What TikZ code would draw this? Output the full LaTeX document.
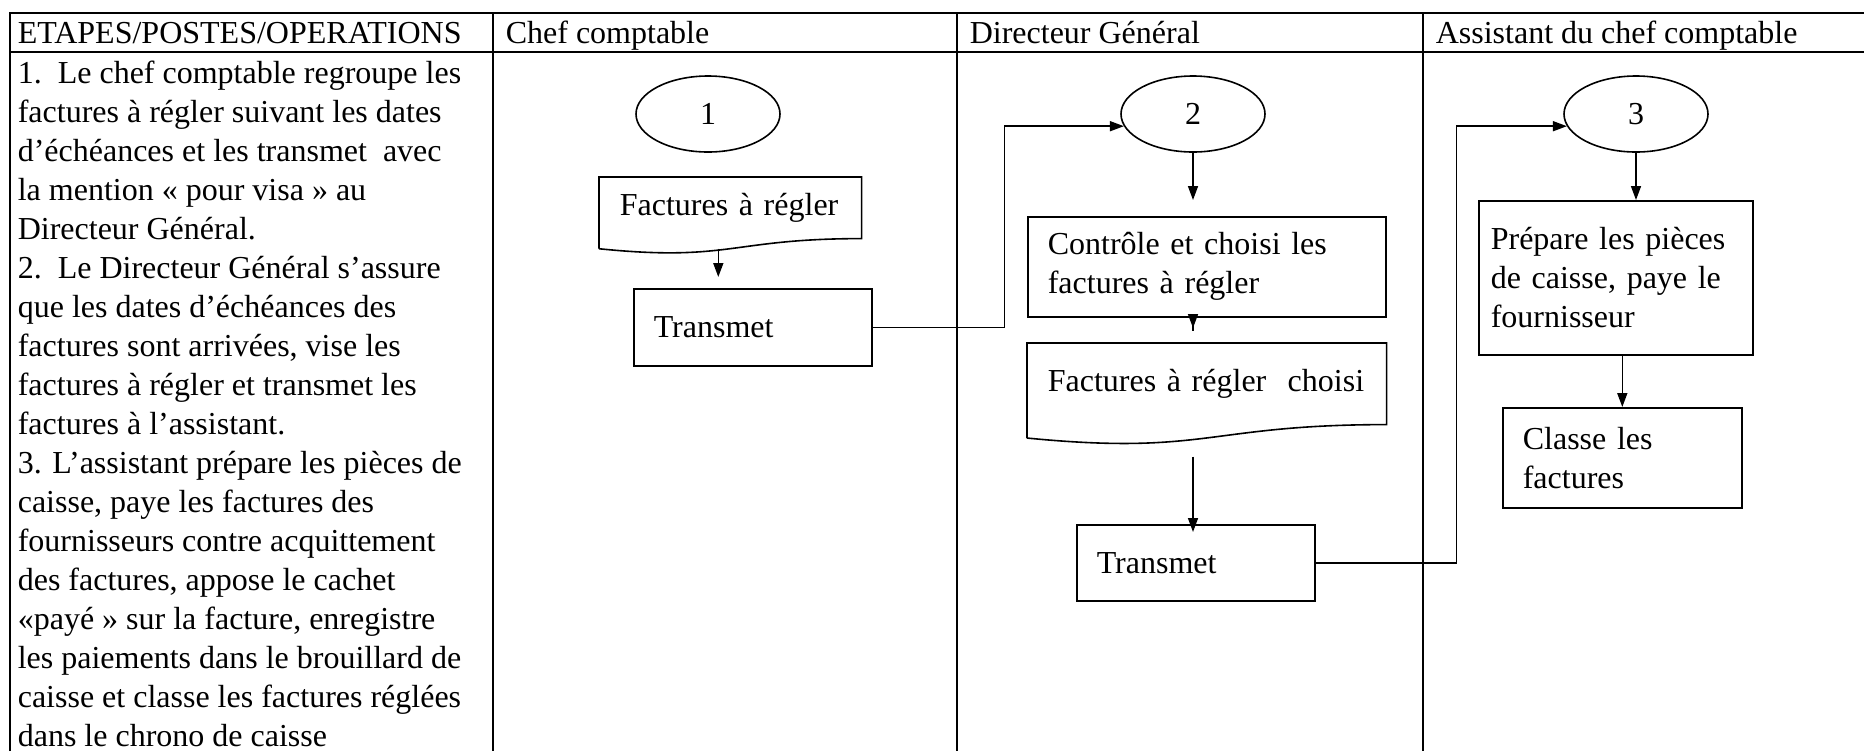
\documentclass[tikz,border=0pt]{standalone}
\usepackage{fontspec}
\setmainfont{Liberation Serif}
\usetikzlibrary{arrows.meta, calc, shapes.geometric}

% contour d'un document (bas ondule) autour d'un noeud
\newcommand{\docoutline}[1]{%
  \draw ($(#1.south west)!-0.1646!(#1.north west)$) -- (#1.north west) -- (#1.north east) -- (#1.south east)
    .. controls (#1.south) and ($(#1.south)!-0.381!(#1.north)$) .. ($(#1.south west)!-0.1646!(#1.north west)$);}

\begin{document}
\begin{tikzpicture}[x=0.5pt, y=-0.5pt, line width=.8pt,
    every node/.style={font=\fontsize{16}{19.5}\selectfont},
    stepbox/.style={draw, rectangle, anchor=north west, inner xsep=10pt, inner ysep=0pt, align=left},
    docbox/.style={stepbox, draw=none},
    bubble/.style={draw, ellipse, minimum width=72pt, minimum height=38pt, inner sep=0pt},
    flow/.style={-{Triangle[length=7pt, width=5pt]}}]
    \useasboundingbox (0,0) rectangle (1864,751);

    % tableau
    \draw (10,751) -- (10,13) -- (1864,13);
    \draw (10,52) -- (1864,52);
    \foreach \xcol in {493,957,1423} \draw (\xcol,13) -- (\xcol,751);

    \node[anchor=base west, inner sep=0] (hops) at (17,43) {ETAPES/POSTES/OPERATIONS};
    \node[anchor=base west, inner sep=0] (hchef) at (505,43) {Chef comptable};
    \node[anchor=base west, inner sep=0] (hdg) at (969,43) {Directeur Général};
    \node[anchor=base west, inner sep=0] (hass) at (1435,43) {Assistant du chef comptable};

    \node[anchor=north west, inner sep=0, align=left] (ops) at (17,60) {1.\ \ Le chef comptable regroupe les\\
        factures à régler suivant les dates\\
        d'échéances et les transmet\ \ avec\\
        la mention « pour visa » au\\
        Directeur Général.\\
        2.\ \ Le Directeur Général s'assure\\
        que les dates d'échéances des\\
        factures sont arrivées, vise les\\
        factures à régler et transmet les\\
        factures à l'assistant.\\
        3. L'assistant prépare les pièces de\\
        caisse, paye les factures des\\
        fournisseurs contre acquittement\\
        des factures, appose le cachet\\
        «payé » sur la facture, enregistre\\
        les paiements dans le brouillard de\\
        caisse et classe les factures réglées\\
        dans le chrono de caisse};

    % chef comptable
    \node[bubble] (e1) at (708,114) {1};
    \node[docbox, text width=110.5pt, minimum height=30pt] (fr) at (599,177) {Factures à régler};
    \docoutline{fr}
    \node[stepbox, text width=99pt, minimum height=38.5pt] (tr1) at (633,288) {Transmet};

    % directeur general
    \node[bubble] (e2) at (1193,114) {2};
    \node[stepbox, text width=159pt, minimum height=50pt] (ctrl) at (1027,216) {Contrôle et choisi les\\factures à régler};
    \node[docbox, text width=159pt, minimum height=40pt] (fc) at (1027,343) {Factures à régler\ \ choisi};
    \docoutline{fc}
    \node[stepbox, text width=99pt, minimum height=38pt] (tr2) at (1076,524) {Transmet};

    % assistant
    \node[bubble] (e3) at (1636,114) {3};
    \node[stepbox, inner xsep=6pt, text width=125pt, minimum height=77pt] (prep) at (1478,200) {Prépare les pièces\\de caisse, paye le\\fournisseur};
    \node[stepbox, text width=99.5pt, minimum height=50pt] (cl) at (1502,407) {Classe les\\factures};

    % fleches
    \draw[flow, shorten <=5pt, shorten >=5.5pt] ([xshift=-6pt]fr.south) -- ([xshift=-6pt]fr.south |- tr1.north);
    \draw[flow] (tr1.east) -- ++(132,0) |- (e2.190);
    \draw[flow, shorten >=8pt] (e2.south) -- (e2.south |- ctrl.north);
    \draw[flow, shorten <=-6.5pt, shorten >=7.5pt] (e2.south |- ctrl.south) -- (e2.south |- fc.north);
    \draw[flow, shorten <=16pt, shorten >=-4pt] (e2.south |- fc.south) -- (e2.south |- tr2.north);
    \draw[flow] (tr2.east) -- ++(141,0) |- (e3.190);
    \draw[flow] (e3.south) -- (e3.south |- prep.north);
    \draw[flow] (cl.north |- prep.south) -- (cl.north);
\end{tikzpicture}
\end{document}
